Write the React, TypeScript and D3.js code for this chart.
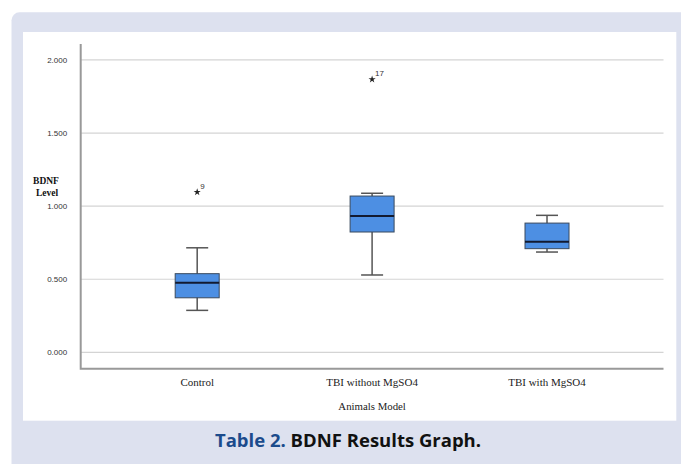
import React, { useEffect, useRef } from 'react'
import * as d3 from 'd3'

const categories = ['Control', 'TBI without MgSO4', 'TBI with MgSO4']
const whiskerLow = [0.287, 0.529, 0.686]
const q1 = [0.373, 0.823, 0.709]
const median = [0.476, 0.932, 0.757]
const q3 = [0.538, 1.069, 0.884]
const whiskerHigh = [0.715, 1.088, 0.937]
const outlierCats = ['Control', 'TBI without MgSO4']
const outlierValues = [1.096, 1.867]
const outlierLabels = ['9', '17']
const yTicks = [0, 0.5, 1, 1.5, 2]

export default function App() {
  const ref = useRef<SVGSVGElement>(null)

  useEffect(() => {
    const svg = d3.select(ref.current)
    svg.selectAll('*').remove()

    const width = 681,
      height = 464

    // page frame
    svg
      .append('rect')
      .attr('x', 11.5)
      .attr('y', 12.3)
      .attr('width', width)
      .attr('height', height)
      .attr('rx', 8)
      .attr('fill', '#dde1ef')
    svg
      .append('rect')
      .attr('x', 23)
      .attr('y', 32)
      .attr('width', 676.3 - 23)
      .attr('height', 420.7 - 32)
      .attr('fill', '#ffffff')

    const left = 80.7,
      right = 663.5,
      top = 44,
      bottom = 368.7

    const y = d3.scaleLinear().domain([-0.112, 2.109]).range([bottom, top])
    const x = d3
      .scalePoint()
      .domain(categories)
      .range([left, right])
      .padding(0.666)

    // grid
    svg
      .selectAll('.grid')
      .data(yTicks)
      .enter()
      .append('line')
      .attr('x1', left)
      .attr('x2', right)
      .attr('y1', (d) => y(d))
      .attr('y2', (d) => y(d))
      .attr('stroke', '#d4d4d4')
      .attr('stroke-width', 1.2)

    svg
      .selectAll('.ytick')
      .data(yTicks)
      .enter()
      .append('text')
      .attr('x', left - 13.5)
      .attr('y', (d) => y(d) + 3)
      .attr('text-anchor', 'end')
      .attr('font-family', 'Liberation Sans, Arial, sans-serif')
      .attr('font-size', 8)
      .attr('fill', '#333')
      .text((d) => d3.format('.3f')(d))

    // axes
    svg
      .append('path')
      .attr('d', `M${left},${top}V${bottom}H${right}`)
      .attr('fill', 'none')
      .attr('stroke', '#999')
      .attr('stroke-width', 2)

    const boxW = 44,
      capW = 22

    const g = svg
      .selectAll('.box')
      .data(categories)
      .enter()
      .append('g')
      .attr('class', 'box')

    g.append('line')
      .attr('x1', (d) => x(d)!)
      .attr('x2', (d) => x(d)!)
      .attr('y1', (d, i) => y(whiskerLow[i]))
      .attr('y2', (d, i) => y(whiskerHigh[i]))
      .attr('stroke', '#555')
      .attr('stroke-width', 1.5)

    g.selectAll('.cap')
      .data((d, i) => [
        { c: d, v: whiskerLow[i] },
        { c: d, v: whiskerHigh[i] },
      ])
      .enter()
      .append('line')
      .attr('x1', (d) => x(d.c)! - capW / 2)
      .attr('x2', (d) => x(d.c)! + capW / 2)
      .attr('y1', (d) => y(d.v))
      .attr('y2', (d) => y(d.v))
      .attr('stroke', '#555')
      .attr('stroke-width', 1.5)

    g.append('rect')
      .attr('x', (d) => x(d)! - boxW / 2)
      .attr('y', (d, i) => y(q3[i]))
      .attr('width', boxW)
      .attr('height', (d, i) => y(q1[i]) - y(q3[i]))
      .attr('fill', '#4d8fe3')
      .attr('stroke', '#3a4a5e')
      .attr('stroke-width', 1)

    g.append('line')
      .attr('x1', (d) => x(d)! - boxW / 2)
      .attr('x2', (d) => x(d)! + boxW / 2)
      .attr('y1', (d, i) => y(median[i]))
      .attr('y2', (d, i) => y(median[i]))
      .attr('stroke', '#121a30')
      .attr('stroke-width', 2)

    // outliers
    const star = d3.symbol().type(d3.symbolStar).size(16)
    const o = svg
      .selectAll('.outlier')
      .data(outlierValues)
      .enter()
      .append('g')
      .attr(
        'transform',
        (d, i) => 'translate(' + x(outlierCats[i]) + ',' + y(d) + ')'
      )
    o.append('path').attr('d', star).attr('fill', '#222')
    o.append('text')
      .attr('x', 3)
      .attr('y', -3)
      .attr('font-family', 'Liberation Sans, Arial, sans-serif')
      .attr('font-size', 8)
      .attr('fill', '#333')
      .text((d, i) => outlierLabels[i])

    // labels
    svg
      .selectAll('.xlabel')
      .data(categories)
      .enter()
      .append('text')
      .attr('x', (d) => x(d)!)
      .attr('y', 385.5)
      .attr('text-anchor', 'middle')
      .attr('font-family', 'Liberation Serif, Times New Roman, serif')
      .attr('font-size', 11)
      .attr('fill', '#222')
      .text((d) => d)

    svg
      .append('text')
      .attr('x', x(categories[1])!)
      .attr('y', 410)
      .attr('text-anchor', 'middle')
      .attr('font-family', 'Liberation Serif, Times New Roman, serif')
      .attr('font-size', 10.8)
      .attr('fill', '#222')
      .text('Animals Model')

    const yt = svg
      .append('text')
      .attr('text-anchor', 'middle')
      .attr('font-family', 'Liberation Serif, Times New Roman, serif')
      .attr('font-weight', 'bold')
      .attr('font-size', 9.5)
      .attr('fill', '#111')
    yt.append('tspan').attr('x', 46).attr('y', 184).text('BDNF')
    yt.append('tspan').attr('x', 47).attr('y', 196).text('Level')

    // caption
    const cap = svg
      .append('text')
      .attr('x', 348)
      .attr('y', 447)
      .attr('text-anchor', 'middle')
      .attr('font-family', 'Open Sans, Noto Sans, sans-serif')
      .attr('font-weight', 'bold')
      .attr('font-size', 18.5)
    cap.append('tspan').attr('fill', '#1b4b8c').text('Table 2. ')
    cap.append('tspan').attr('fill', '#111').text('BDNF Results Graph.')
  }, [])

  return (
    <svg
      ref={ref}
      width={681}
      height={464}
      style={{ position: 'absolute', left: 0, top: 0, background: '#fff' }}
    />
  )
}
